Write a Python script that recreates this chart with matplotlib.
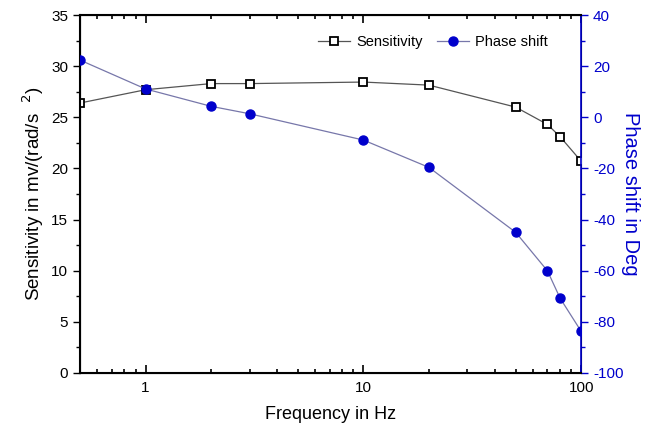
import matplotlib
matplotlib.use("Agg")
import matplotlib.pyplot as plt
from matplotlib.ticker import MultipleLocator, FixedLocator, NullFormatter

plt.rcParams['font.family'] = ['Liberation Sans', 'DejaVu Sans']
plt.rcParams['axes.unicode_minus'] = False

# data
freq = [0.5, 1, 2, 3, 10, 20, 50, 70, 80, 100]
sensitivity = [26.4, 27.7, 28.3, 28.3, 28.45, 28.15, 26.0, 24.3, 23.1, 20.7]
phase = [22.4, 11.1, 4.3, 1.4, -8.9, -19.6, -45.0, -60.1, -70.8, -83.8]

blue = '#0000cc'

fig = plt.figure(figsize=(6.56, 4.32), dpi=100)
ax = fig.add_axes([0.122, 0.137, 0.764, 0.828])
ax2 = ax.twinx()

l1, = ax.plot(freq, sensitivity, color='#555555', lw=0.9, marker='s', ms=6,
              mfc='white', mec='black', mew=1.3, label='Sensitivity', zorder=3)
l2, = ax2.plot(freq, phase, color='#7777aa', lw=0.9, marker='o', ms=6.5,
               mfc=blue, mec=blue, label='Phase shift', zorder=3)

ax.set_xscale('log')
ax.set_xlim(0.5, 100)
ax.set_ylim(0, 35)
ax2.set_ylim(-100, 40)

ax.xaxis.set_major_locator(FixedLocator([1, 10, 100]))
ax.xaxis.set_minor_locator(FixedLocator([0.5, 0.6, 0.7, 0.8, 0.9, 2, 3, 4, 5, 6, 7, 8, 9,
                                         20, 30, 40, 50, 60, 70, 80, 90]))
ax.xaxis.set_major_formatter(matplotlib.ticker.FixedFormatter(['1', '10', '100']))
ax.xaxis.set_minor_formatter(NullFormatter())
ax.yaxis.set_major_locator(MultipleLocator(5))
ax.yaxis.set_minor_locator(MultipleLocator(2.5))
ax2.yaxis.set_major_locator(MultipleLocator(20))
ax2.yaxis.set_minor_locator(MultipleLocator(10))

ax.tick_params(axis='x', which='both', direction='in', top=True, labelsize=11, pad=6)
ax.tick_params(axis='x', which='major', length=6, width=1.2)
ax.tick_params(axis='x', which='minor', length=3, width=1.2)
ax.tick_params(axis='y', which='major', direction='out', length=5, width=1, labelsize=11)
ax.tick_params(axis='y', which='minor', direction='out', length=3, width=1)
ax2.tick_params(axis='y', which='major', direction='out', length=5, width=1,
                colors=blue, labelsize=11)
ax2.tick_params(axis='y', which='minor', direction='out', length=3, width=1, colors=blue)

for s in ['left', 'bottom', 'top']:
    ax2.spines[s].set_linewidth(1.5)
ax2.spines['right'].set_color(blue)
ax2.spines['right'].set_linewidth(1.2)

ax.set_xlabel('Frequency in Hz', fontsize=13, labelpad=8)
ax.set_ylabel('Sensitivity in mv/(rad/s  $^{2}$)', fontsize=13.5, labelpad=4)
ax2.set_ylabel('Phase shift in Deg', fontsize=14.5, color=blue, rotation=270, labelpad=12)

ax.legend([l1, l2], ['Sensitivity', 'Phase shift'], loc='upper right', ncol=2,
          frameon=False, fontsize=10.5, bbox_to_anchor=(0.96, 0.98),
          handlelength=2.2, columnspacing=1.0, handletextpad=0.4)

fig.savefig('out.png', dpi=100)
